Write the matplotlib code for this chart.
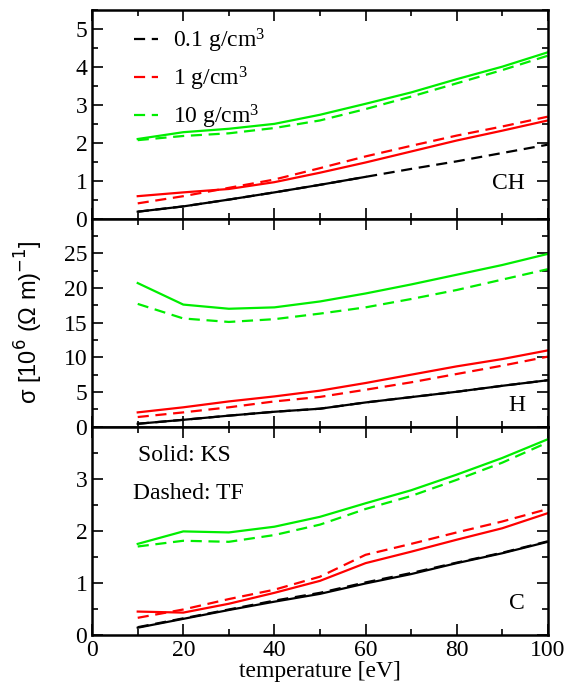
import matplotlib
matplotlib.use("Agg")
from matplotlib import pyplot as plt
from matplotlib.ticker import MultipleLocator

plt.rcParams['font.family'] = ['Liberation Serif', 'DejaVu Serif']
plt.rcParams['mathtext.fontset'] = 'custom'
plt.rcParams['mathtext.rm'] = 'Liberation Serif'
plt.rcParams['mathtext.it'] = 'Liberation Serif:italic'

temps = [10, 20, 30, 40, 50, 60, 70, 80, 90, 100]
densities = ["0.1 g/cm$^3$", "1 g/cm$^3$", "10 g/cm$^3$"]
colors = ["black", "#ff0000", "#00ee00"]

# CH
ch_ks_01 = [0.18, 0.32, 0.50, 0.69, 0.89, 1.10]
ch_tf_01 = [0.18, 0.32, 0.50, 0.69, 0.89, 1.10, 1.31, 1.51, 1.73, 1.95]
ch_ks_1 = [0.59, 0.69, 0.78, 0.96, 1.21, 1.48, 1.77, 2.06, 2.32, 2.59]
ch_tf_1 = [0.40, 0.59, 0.81, 1.03, 1.33, 1.64, 1.92, 2.19, 2.43, 2.69]
ch_ks_10 = [2.10, 2.28, 2.37, 2.50, 2.74, 3.03, 3.33, 3.68, 4.01, 4.39]
ch_tf_10 = [2.07, 2.18, 2.25, 2.39, 2.59, 2.89, 3.22, 3.57, 3.92, 4.30]

# H
h_ks_01 = [0.43, 1.00, 1.60, 2.16, 2.60, 3.50, 4.27, 5.04, 5.90, 6.70]
h_tf_01 = [0.43, 1.00, 1.60, 2.16, 2.60, 3.50, 4.27, 5.04, 5.90, 6.70]
h_ks_1 = [2.07, 2.80, 3.65, 4.37, 5.20, 6.30, 7.50, 8.70, 9.75, 11.0]
h_tf_1 = [1.40, 2.07, 2.80, 3.65, 4.30, 5.33, 6.40, 7.60, 8.80, 10.1]
h_ks_10 = [20.7, 17.6, 17.0, 17.2, 18.05, 19.2, 20.5, 21.9, 23.3, 24.9]
h_tf_10 = [17.7, 15.6, 15.1, 15.5, 16.3, 17.2, 18.4, 19.7, 21.2, 22.7]

# C
c_ks_01 = [0.14, 0.31, 0.48, 0.64, 0.79, 0.99, 1.17, 1.38, 1.57, 1.79]
c_tf_01 = [0.15, 0.32, 0.49, 0.66, 0.81, 1.01, 1.19, 1.39, 1.58, 1.80]
c_ks_1 = [0.45, 0.43, 0.60, 0.81, 1.04, 1.38, 1.60, 1.83, 2.05, 2.34]
c_tf_1 = [0.33, 0.49, 0.69, 0.87, 1.12, 1.54, 1.75, 1.97, 2.18, 2.42]
c_ks_10 = [1.75, 1.99, 1.97, 2.08, 2.27, 2.53, 2.78, 3.08, 3.40, 3.76]
c_tf_10 = [1.70, 1.81, 1.79, 1.92, 2.12, 2.42, 2.67, 2.98, 3.31, 3.70]

panels = [
    ("CH", 0.17, [ch_ks_01, ch_ks_1, ch_ks_10], [ch_tf_01, ch_tf_1, ch_tf_10], 5.5, 1, [0, 1, 2, 3, 4, 5]),
    ("H", 0.10, [h_ks_01, h_ks_1, h_ks_10], [h_tf_01, h_tf_1, h_tf_10], 30, 5, [0, 5, 10, 15, 20, 25]),
    ("C", 0.15, [c_ks_01, c_ks_1, c_ks_10], [c_tf_01, c_tf_1, c_tf_10], 4, 1, [0, 1, 2, 3]),
]

fig, axes = plt.subplots(3, 1, sharex=True, figsize=(5.76, 6.85), dpi=100)
fig.subplots_adjust(left=0.16, right=0.951, bottom=0.073, top=0.985, hspace=0)

for ax, (name, ny, ks, tf, ymax, step, labels) in zip(axes, panels):
    for i in range(3):
        ax.plot(temps[:len(tf[i])], tf[i], color=colors[i], lw=1.6, ls=(0, (5, 3)), label=densities[i])
        ax.plot(temps[:len(ks[i])], ks[i], color=colors[i], lw=1.6)
    ax.set_xlim(0, 100)
    ax.set_ylim(0, ymax)
    ax.set_yticks(labels)
    ax.yaxis.set_minor_locator(MultipleLocator(step / 2))
    ax.xaxis.set_major_locator(MultipleLocator(20))
    ax.xaxis.set_minor_locator(MultipleLocator(10))
    ax.tick_params(which='both', direction='in', top=True, right=True, labelsize=17, width=1.2)
    ax.tick_params(which='major', length=8)
    ax.tick_params(which='minor', length=4)
    for s in ax.spines.values():
        s.set_linewidth(1.8)
    ax.text(0.95, ny, name, transform=ax.transAxes, ha='right', va='center', fontsize=17)

axes[0].legend(loc='upper left', bbox_to_anchor=(0.045, 1.025), frameon=False, fontsize=17,
               handlelength=1.0, handletextpad=0.65, labelspacing=0.42)
axes[2].text(0.1, 0.86, "Solid: KS", transform=axes[2].transAxes, fontsize=17, va='center')
axes[2].text(0.09, 0.68, "Dashed: TF", transform=axes[2].transAxes, fontsize=17, va='center')
axes[2].set_xlabel("temperature [eV]", fontsize=17, labelpad=0)
fig.text(0.05, 0.53, "σ [10$^6$ (Ω m)$^{-1}$]", rotation=90, ha='center', va='center', fontsize=17,
         family='Liberation Sans', math_fontfamily='dejavusans')

plt.savefig("out.png", dpi=100)
